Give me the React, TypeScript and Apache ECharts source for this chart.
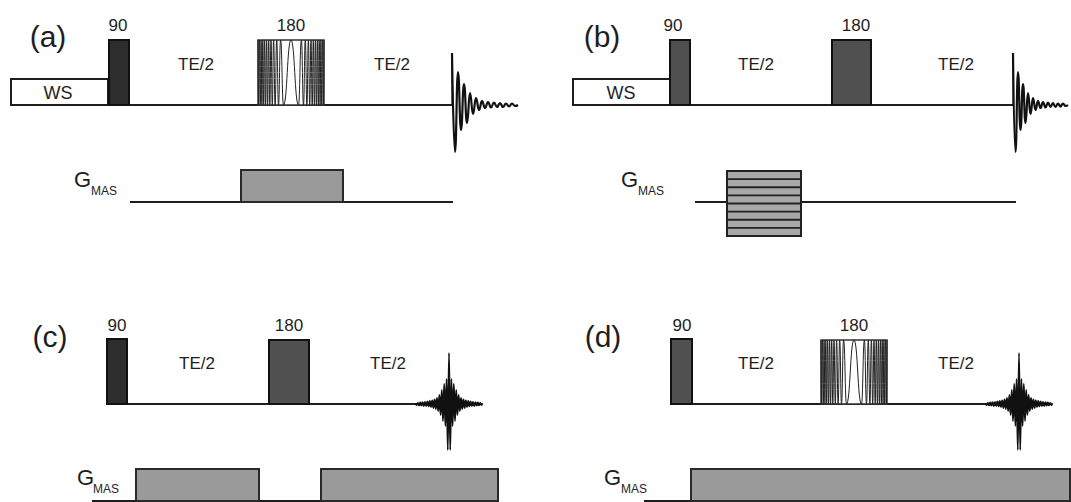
import { useEffect, useRef } from "react";
import * as echarts from "echarts";

const W = 1071;
const H = 502;

// ---- diagram data (x along time, y downward in drawing units) ----
// blocks: [xStart, xEnd, yTop, yBottom]
const wsBlocks = [
  [11, 108, 79, 105],
  [573, 670, 79, 105],
];
const darkPulses = [
  [109, 129, 40, 105],
  [107, 127, 339, 404],
];
const midPulses = [
  [670, 690, 40, 105],
  [832, 871, 40, 105],
  [269, 309, 340, 404],
  [671, 692, 339, 404],
];
const gradientBlocks = [
  [241, 343, 170, 202],
  [136, 259, 469, 501],
  [321, 498, 469, 501],
  [691, 1070, 469, 501],
];
const stripedBlocks = [[727, 801, 171, 236]];
const chirpBoxes = [
  [258, 324, 40, 105],
  [821, 887, 340, 404],
];
// chirp turning points: distance from pulse centre (alternating top/bottom)
const chirpOffsets = [0, 7.5, 10.4, 12.5, 14.3, 15.9, 17.4, 18.7, 20, 21.2, 22.3, 23.4, 24.4, 25.4, 26.4, 27.3, 28.2, 29.1, 29.9, 30.7, 31.5, 32.3, 33];

// baselines: [xStart, xEnd, y]
const rfBaselines = [
  [11, 452, 105],
  [573, 1013, 105],
  [107, 416, 404],
  [671, 986, 404],
];
const gBaselines = [
  [130, 453, 202],
  [695, 1016, 202],
  [92, 498, 501],
  [644, 1070, 501],
];

// FID: [xStart, baseline y, step between half-cycles]
const fids = [
  [452, 105, 3],
  [1013, 105, 2.5],
];
const fidAmplitudes = [52, -47, 33, -25, 21, -18, 12, -9, 7, -5, 4, -3, 3, -2.5, 2.5, -2, 2, -2, 1.5, -1.5, 1.5, -1, 0];

// echoes: [centre x, baseline y, step]
const echoes = [
  [449, 404, 1.2],
  [1019, 404, 1.2],
];
const echoPeak = 51;
const echoMagnitudes = [46, 25, 22, 20, 17, 14, 11, 9, 7, 6, 5, 4.5, 4, 3.5, 3, 3, 2.5, 2.5, 2.2, 2, 2, 1.8, 1.6, 1.5, 1.4, 1.2, 1, 0.8];

// texts: [text, x, y]
const panelLabels = [
  ["(a)", 48, 36],
  ["(b)", 602, 36],
  ["(c)", 50, 336],
  ["(d)", 603, 336],
];
const pulseLabels = [
  ["90", 118, 25],
  ["180", 291, 25],
  ["90", 673, 25],
  ["180", 856, 25],
  ["90", 117, 325],
  ["180", 289, 325],
  ["90", 682, 325],
  ["180", 854, 325],
];
const delayLabels = [
  ["TE/2", 196, 64],
  ["TE/2", 392, 64],
  ["TE/2", 756, 64],
  ["TE/2", 956, 64],
  ["TE/2", 197, 363],
  ["TE/2", 388, 363],
  ["TE/2", 756, 363],
  ["TE/2", 956, 363],
];
const wsLabels = [
  ["WS", 58, 93],
  ["WS", 621, 93],
];
// gradient labels: [G left x, G centre y, subscript left x, subscript centre y]
const gLabels = [
  [74, 179.5, 91, 191],
  [621, 179.5, 638, 191],
  [77, 477.5, 93, 489],
  [604, 477.5, 621, 489],
];

const FONT = "'Liberation Sans', Arial, sans-serif";
const INK = "#1e1e1e";

function rectSeries(name: string, data: number[][], fill: string, stroke: string, lw: number, z: number) {
  return {
    name,
    type: "custom",
    z,
    data,
    encode: { x: [0, 1], y: [2, 3] },
    renderItem: (_p: any, api: any) => {
      const a = api.coord([api.value(0), api.value(2)]);
      const b = api.coord([api.value(1), api.value(3)]);
      return {
        type: "rect",
        shape: { x: a[0], y: a[1], width: b[0] - a[0], height: b[1] - a[1] },
        style: { fill, stroke, lineWidth: lw },
      };
    },
  };
}

function lineSeries(data: number[][], width: number, color: string, z: number, smooth = false) {
  return {
    type: "line",
    data,
    symbol: "none",
    smooth,
    smoothMonotone: smooth ? "x" : undefined,
    z,
    lineStyle: { color, width },
    silent: true,
  };
}

export default function App() {
  const ref = useRef<HTMLDivElement>(null);

  useEffect(() => {
    document.body.style.margin = "0";
    if (!ref.current) return;
    const chart = echarts.init(ref.current, undefined, { renderer: "svg" });

    const series: any[] = [];

    // baselines
    rfBaselines.forEach(([x0, x1, y]) => series.push(lineSeries([[x0, y], [x1, y]], 2, INK, 1)));
    gBaselines.forEach(([x0, x1, y]) => series.push(lineSeries([[x0, y], [x1, y]], 2, INK, 1)));

    // blocks
    series.push(rectSeries("WS", wsBlocks, "#ffffff", INK, 2, 3));
    series.push(rectSeries("90 dark", darkPulses, "#2d2d2d", "#111", 2, 3));
    series.push(rectSeries("pulse", midPulses, "#505050", "#111", 2, 3));
    series.push(rectSeries("gradient", gradientBlocks, "#9a9a9a", "#2a2a2a", 2, 3));

    // striped gradient block
    series.push({
      type: "custom",
      z: 3,
      data: stripedBlocks,
      encode: { x: [0, 1], y: [2, 3] },
      renderItem: (_p: any, api: any) => {
        const a = api.coord([api.value(0), api.value(2)]);
        const b = api.coord([api.value(1), api.value(3)]);
        const n = 8;
        const h = (b[1] - a[1]) / n;
        const children: any[] = [
          {
            type: "rect",
            shape: { x: a[0], y: a[1], width: b[0] - a[0], height: b[1] - a[1] },
            style: { fill: "#a8a8a8", stroke: "#222", lineWidth: 2 },
          },
        ];
        for (let i = 1; i < n; i++) {
          children.push({
            type: "line",
            shape: { x1: a[0], y1: a[1] + i * h, x2: b[0], y2: a[1] + i * h },
            style: { stroke: "#222", lineWidth: 1.8 },
          });
        }
        return { type: "group", children };
      },
    });

    // chirp (adiabatic 180) boxes + waveform
    series.push(rectSeries("chirp box", chirpBoxes, "#ffffff", "#333", 1.5, 3));
    chirpBoxes.forEach(([x0, x1, yt, yb]) => {
      const c = (x0 + x1) / 2;
      const pts: number[][] = [];
      for (let i = chirpOffsets.length - 1; i >= 1; i--) pts.push([c - chirpOffsets[i], i % 2 === 0 ? yt : yb]);
      pts.push([c, yt]);
      for (let i = 1; i < chirpOffsets.length; i++) pts.push([c + chirpOffsets[i], i % 2 === 0 ? yt : yb]);
      series.push(lineSeries(pts, 1.0, "#222", 4, true));
    });

    // FIDs
    fids.forEach(([x0, y0, step]) => {
      const pts = fidAmplitudes.map((a, i) => [x0 + i * step, y0 - a]);
      series.push(lineSeries([[x0, y0], [x0, y0 - fidAmplitudes[0]]], 1.2, "#111", 4));
      series.push(lineSeries(pts, 2.2, "#111", 4, true));
    });

    // echoes
    echoes.forEach(([c, y0, step]) => {
      const pts: number[][] = [];
      for (let k = echoMagnitudes.length; k >= 1; k--) {
        const s = k % 2 === 1 ? 1 : -1;
        pts.push([c - k * step, y0 + s * echoMagnitudes[k - 1]]);
      }
      pts.push([c, y0 - echoPeak]);
      for (let k = 1; k <= echoMagnitudes.length; k++) {
        const s = k % 2 === 1 ? 1 : -1;
        pts.push([c + k * step, y0 + s * echoMagnitudes[k - 1]]);
      }
      series.push(lineSeries(pts, 1.8, "#111", 4, true));
    });

    const text = (t: string, x: number, y: number, size: number, align = "center") => ({
      type: "text",
      x,
      y,
      z: 10,
      style: {
        text: t,
        fontSize: size,
        fontFamily: FONT,
        fill: INK,
        align,
        verticalAlign: "middle",
      },
    });

    const graphic: any[] = [];
    panelLabels.forEach(([t, x, y]) => graphic.push(text(t as string, x as number, y as number, 30)));
    pulseLabels.forEach(([t, x, y]) => graphic.push(text(t as string, x as number, y as number, 17)));
    delayLabels.forEach(([t, x, y]) => graphic.push(text(t as string, x as number, y as number, 17)));
    wsLabels.forEach(([t, x, y]) => graphic.push(text(t as string, x as number, y as number, 18)));
    gLabels.forEach(([gx, gy, sx, sy]) => {
      graphic.push(text("G", gx, gy, 22, "left"));
      graphic.push(text("MAS", sx, sy, 12, "left"));
    });

    chart.setOption({
      animation: false,
      backgroundColor: "#ffffff",
      grid: { left: 0, right: 0, top: 0, bottom: 0 },
      xAxis: { type: "value", min: 0, max: W, show: false },
      yAxis: { type: "value", min: 0, max: H, inverse: true, show: false },
      series,
      graphic,
    });

    return () => chart.dispose();
  }, []);

  return <div ref={ref} style={{ width: W, height: H }} />;
}
